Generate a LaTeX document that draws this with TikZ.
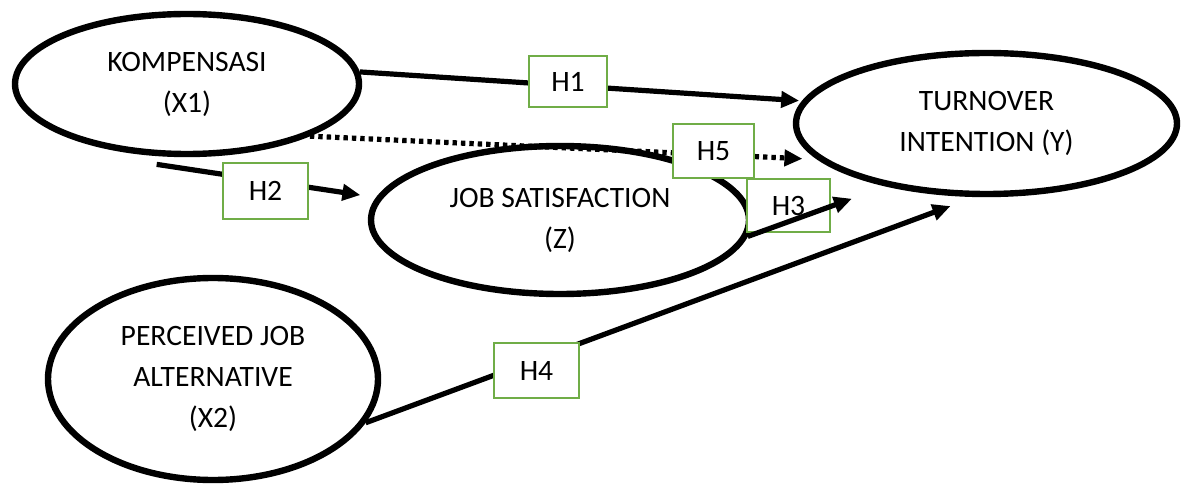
\documentclass[tikz,border=0pt]{standalone}
\usepackage{fontspec}
\setmainfont{Carlito}
\usepackage{tikz}
\usetikzlibrary{arrows.meta, shapes.geometric, calc}
\definecolor{hypgreen}{RGB}{112,173,71}

\begin{document}
\begin{tikzpicture}[
    x=0.5pt, y=-0.5pt,
    construct/.style={draw, ellipse, line width=3.2pt, fill=white, inner sep=0pt, align=center, font=\fontsize{14.8}{20.5}\selectfont},
    hyp/.style={draw=hypgreen, fill=white, line width=1pt, inner sep=0pt, minimum width=41pt, minimum height=27pt, font=\fontsize{14.8}{17}\selectfont},
    arr/.style={-{Triangle[length=9pt, width=8pt]}, line width=2.6pt},
    dotarr/.style={arr, dash pattern=on 2.2pt off 2pt}
  ]
  \useasboundingbox (0,0) rectangle (1187,486);

  % Constructs
  \node[construct, minimum width=172pt, minimum height=70pt] (kom) at (187,84) {KOMPENSASI\\(X1)};
  \node[construct, minimum width=190.5pt, minimum height=70.5pt] (turn) at (986.5,123.5) {TURNOVER\\INTENTION (Y)};
  \node[construct, minimum width=189pt, minimum height=74pt] (js) at (560,220) {JOB SATISFACTION\\(Z)};
  \node[construct, minimum width=165pt, minimum height=101pt] (pja) at (213,379) {PERCEIVED JOB\\ALTERNATIVE\\(X2)};

  % Paths
  \draw[arr, shorten >=1.5pt] (kom.4) -- (turn.173);
  \draw[arr, shorten >=8pt] ($(kom.250)+(-4,8)$) -- (js.173);
  \draw[dotarr, shorten >=7.5pt] (kom.-23) -- (turn.192.6);
  \draw[arr, shorten >=13pt] (pja.-16) -- (turn.261);

  % Hypotheses
  \node[hyp, minimum width=39pt, minimum height=25.5pt] (h1) at (568,81.5) {H1};
  \node[hyp, minimum width=42.5pt, minimum height=28pt] (h2) at (265.5,191) {H2};
  \node[hyp, minimum width=40.5pt, minimum height=27pt] (h5) at (713.5,151) {H5};
  \node[hyp, minimum width=41.5pt, minimum height=26.5pt] (h3) at (788.5,205.5) {H3};
  \node[hyp, minimum width=42.5pt, minimum height=27.5pt] (h4) at (536.5,370.5) {H4};

  \draw[arr, shorten >=18pt] (js.-5) -- (turn.212);
\end{tikzpicture}
\end{document}
